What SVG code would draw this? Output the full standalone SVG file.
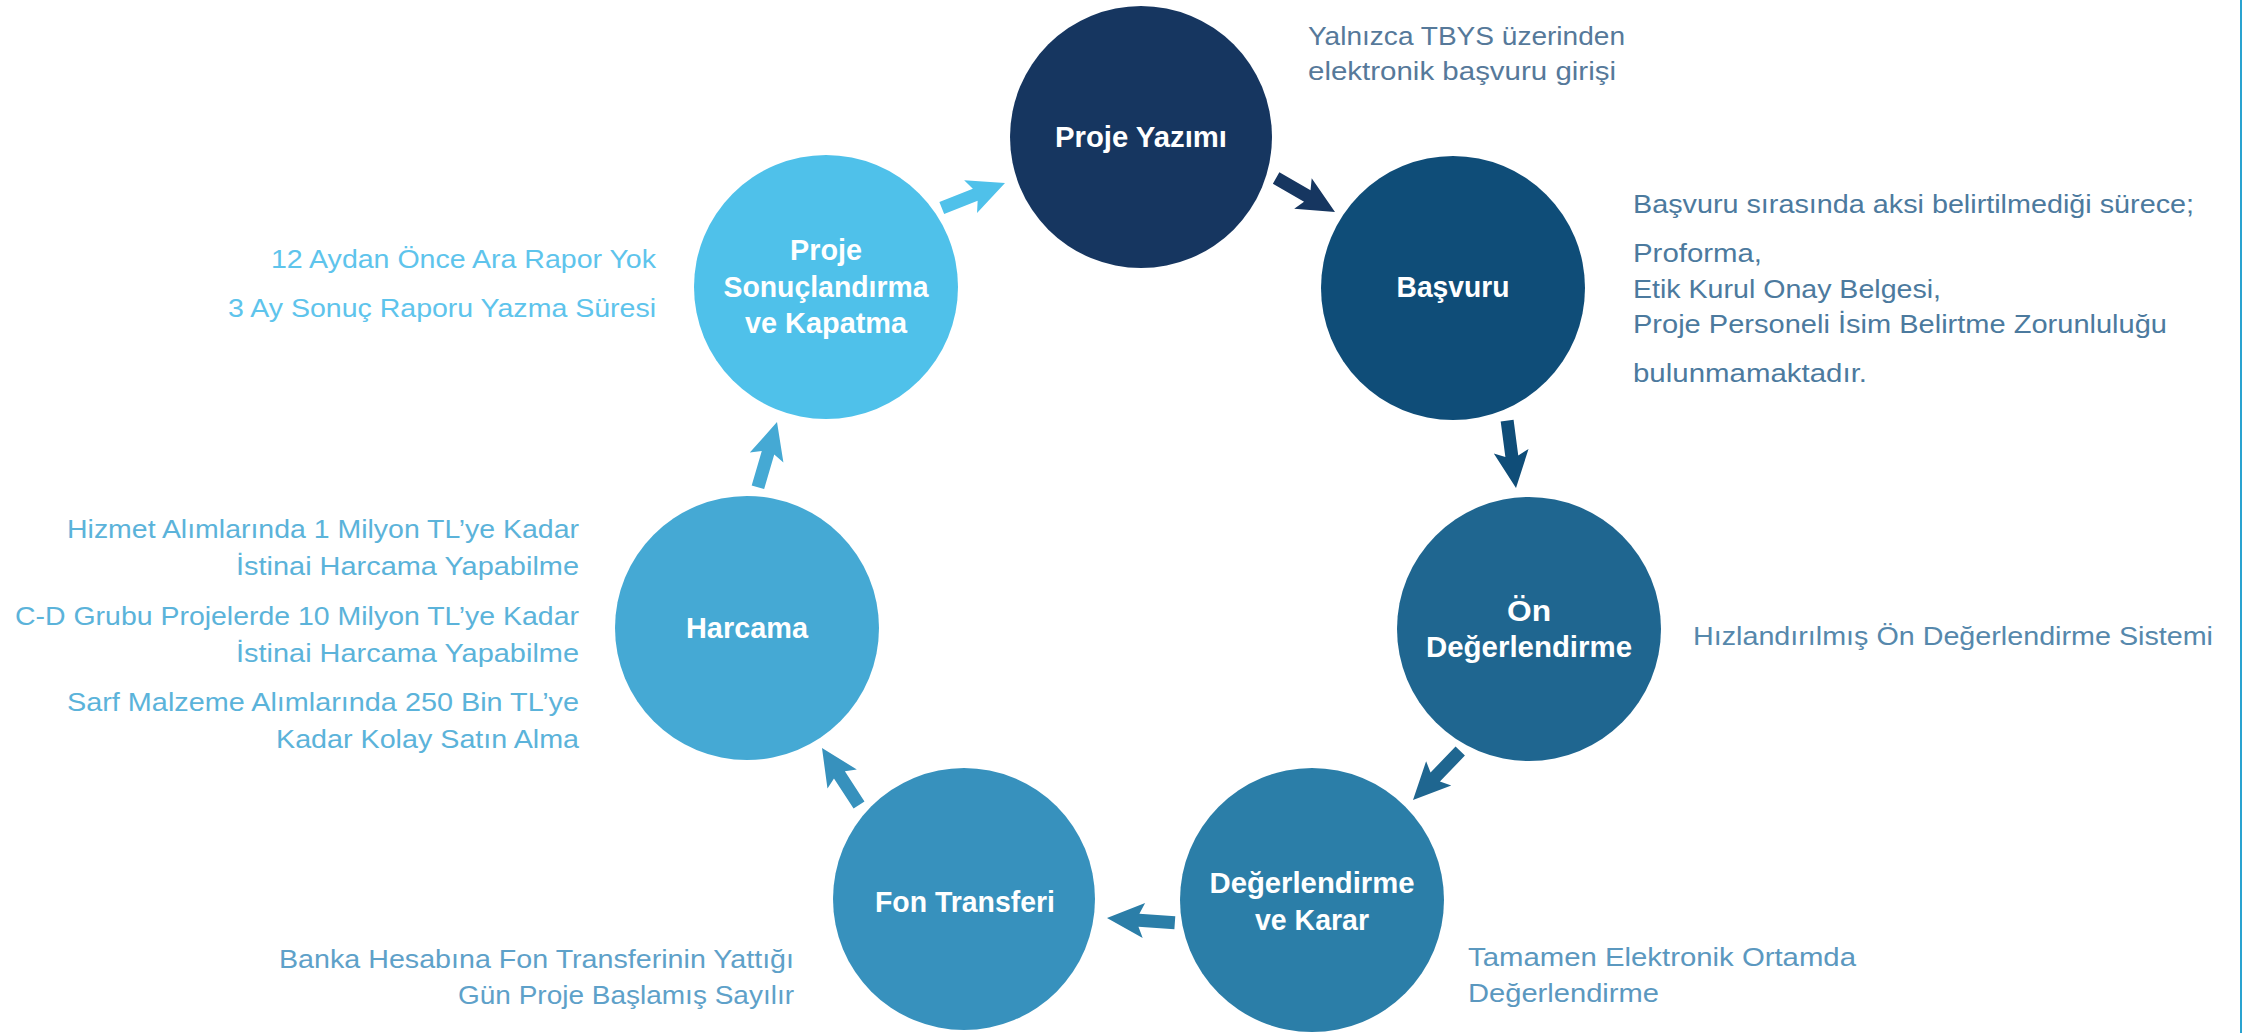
<svg xmlns="http://www.w3.org/2000/svg" width="2242" height="1033" viewBox="0 0 2242 1033">
<style>
.lbl{font-family:"Liberation Sans",Arial,sans-serif;font-weight:bold;font-size:29px;fill:#ffffff;text-anchor:middle}
.d{font-family:"Liberation Sans",Arial,sans-serif;font-size:26px}
.r{text-anchor:end}
</style>
<defs>
<path id="arw" d="M0,0 L-37,-17.5 L-32,-6.5 L-68,-6.5 L-68,6.5 L-32,6.5 L-37,17.5 Z"/>
</defs>
<rect width="2242" height="1033" fill="#ffffff"/>
<rect x="2240" y="0" width="2" height="1033" fill="#2aa3d0"/>

<g id="connectors">
<use href="#arw" fill="#163660" transform="translate(1335,212) rotate(30)"/>
<use href="#arw" fill="#0f4d78" transform="translate(1516,488) rotate(82.5)"/>
<use href="#arw" fill="#1f6690" transform="translate(1413,800) rotate(134)"/>
<use href="#arw" fill="#2b7ea8" transform="translate(1107,918) rotate(184)"/>
<use href="#arw" fill="#3791bd" transform="translate(822,748) rotate(237)"/>
<use href="#arw" fill="#45a9d4" transform="translate(777,422) rotate(-73.7)"/>
<use href="#arw" fill="#4fc1ea" transform="translate(1005,183) rotate(-21.6)"/>
</g>

<g id="proje-yazimi">
<circle cx="1141" cy="137" r="131" fill="#163660"/>
<text class="lbl" x="1141" y="147" textLength="172" lengthAdjust="spacingAndGlyphs">Proje Yazımı</text>
<text class="d" x="1308" y="45" fill="#56799a" textLength="317" lengthAdjust="spacingAndGlyphs">Yalnızca TBYS üzerinden</text>
<text class="d" x="1308" y="80" fill="#56799a" textLength="308" lengthAdjust="spacingAndGlyphs">elektronik başvuru girişi</text>
</g>

<g id="basvuru">
<circle cx="1453" cy="288" r="132" fill="#0f4d78"/>
<text class="lbl" x="1453" y="297" textLength="113" lengthAdjust="spacingAndGlyphs">Başvuru</text>
<text class="d" x="1633" y="213" fill="#4c7a9e" textLength="561" lengthAdjust="spacingAndGlyphs">Başvuru sırasında aksi belirtilmediği sürece;</text>
<text class="d" x="1633" y="262" fill="#4c7a9e" textLength="129" lengthAdjust="spacingAndGlyphs">Proforma,</text>
<text class="d" x="1633" y="298" fill="#4c7a9e" textLength="308" lengthAdjust="spacingAndGlyphs">Etik Kurul Onay Belgesi,</text>
<text class="d" x="1633" y="333" fill="#4c7a9e" textLength="534" lengthAdjust="spacingAndGlyphs">Proje Personeli İsim Belirtme Zorunluluğu</text>
<text class="d" x="1633" y="382" fill="#4c7a9e" textLength="234" lengthAdjust="spacingAndGlyphs">bulunmamaktadır.</text>
</g>

<g id="on-degerlendirme">
<circle cx="1529" cy="629" r="132" fill="#1f6690"/>
<text class="lbl" x="1529" y="621" textLength="44" lengthAdjust="spacingAndGlyphs">Ön</text>
<text class="lbl" x="1529" y="657" textLength="206" lengthAdjust="spacingAndGlyphs">Değerlendirme</text>
<text class="d" x="1693" y="645" fill="#5688ac" textLength="520" lengthAdjust="spacingAndGlyphs">Hızlandırılmış Ön Değerlendirme Sistemi</text>
</g>

<g id="degerlendirme-karar">
<circle cx="1312" cy="900" r="132" fill="#2b7ea8"/>
<text class="lbl" x="1312" y="893" textLength="205" lengthAdjust="spacingAndGlyphs">Değerlendirme</text>
<text class="lbl" x="1312" y="930" textLength="114" lengthAdjust="spacingAndGlyphs">ve Karar</text>
<text class="d" x="1468" y="966" fill="#5b98bf" textLength="388" lengthAdjust="spacingAndGlyphs">Tamamen Elektronik Ortamda</text>
<text class="d" x="1468" y="1002" fill="#5b98bf" textLength="191" lengthAdjust="spacingAndGlyphs">Değerlendirme</text>
</g>

<g id="fon-transferi">
<circle cx="964" cy="899" r="131" fill="#3791bd"/>
<text class="lbl" x="965" y="912" textLength="180" lengthAdjust="spacingAndGlyphs">Fon Transferi</text>
<text class="d r" x="794" y="968" fill="#5ea1c9" textLength="515" lengthAdjust="spacingAndGlyphs">Banka Hesabına Fon Transferinin Yattığı</text>
<text class="d r" x="794" y="1004" fill="#5ea1c9" textLength="336" lengthAdjust="spacingAndGlyphs">Gün Proje Başlamış Sayılır</text>
</g>

<g id="harcama">
<circle cx="747" cy="628" r="132" fill="#45a9d4"/>
<text class="lbl" x="747" y="638" textLength="122" lengthAdjust="spacingAndGlyphs">Harcama</text>
<text class="d r" x="579" y="538" fill="#5bb3da" textLength="512" lengthAdjust="spacingAndGlyphs">Hizmet Alımlarında 1 Milyon TL’ye Kadar</text>
<text class="d r" x="579" y="575" fill="#5bb3da" textLength="343" lengthAdjust="spacingAndGlyphs">İstinai Harcama Yapabilme</text>
<text class="d r" x="579" y="625" fill="#5bb3da" textLength="564" lengthAdjust="spacingAndGlyphs">C-D Grubu Projelerde 10 Milyon TL’ye Kadar</text>
<text class="d r" x="579" y="662" fill="#5bb3da" textLength="343" lengthAdjust="spacingAndGlyphs">İstinai Harcama Yapabilme</text>
<text class="d r" x="579" y="711" fill="#5bb3da" textLength="512" lengthAdjust="spacingAndGlyphs">Sarf Malzeme Alımlarında 250 Bin TL’ye</text>
<text class="d r" x="579" y="748" fill="#5bb3da" textLength="303" lengthAdjust="spacingAndGlyphs">Kadar Kolay Satın Alma</text>
</g>

<g id="proje-sonuclandirma">
<circle cx="826" cy="287" r="132" fill="#4fc1ea"/>
<text class="lbl" x="826" y="260" textLength="72" lengthAdjust="spacingAndGlyphs">Proje</text>
<text class="lbl" x="826" y="297" textLength="205" lengthAdjust="spacingAndGlyphs">Sonuçlandırma</text>
<text class="lbl" x="826" y="333" textLength="162" lengthAdjust="spacingAndGlyphs">ve Kapatma</text>
<text class="d r" x="656" y="268" fill="#5ec4ec" textLength="385" lengthAdjust="spacingAndGlyphs">12 Aydan Önce Ara Rapor Yok</text>
<text class="d r" x="656" y="317" fill="#5ec4ec" textLength="428" lengthAdjust="spacingAndGlyphs">3 Ay Sonuç Raporu Yazma Süresi</text>
</g>
</svg>
